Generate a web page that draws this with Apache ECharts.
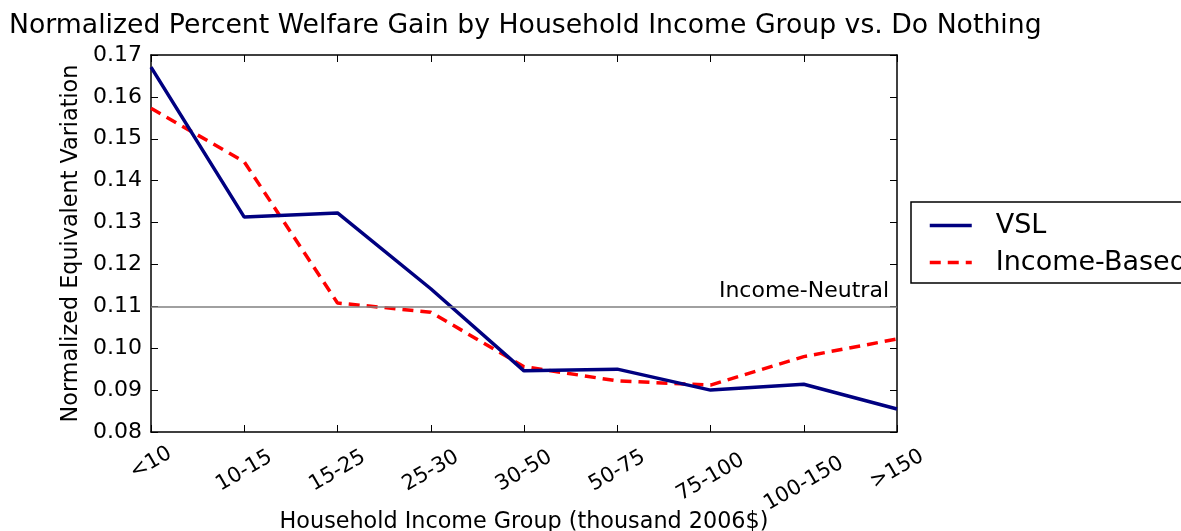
<!DOCTYPE html>
<html>
<head>
<meta charset="utf-8">
<script src="https://cdn.jsdelivr.net/npm/echarts@6/dist/echarts.min.js"></script>
<style>
  html, body { margin: 0; padding: 0; background: #fff; }
  #main { width: 1181px; height: 531px; }
</style>
</head>
<body>
<div id="main"></div>
<script>
// income groups (thousand 2006$)
var groups = ['<10', '10-15', '15-25', '25-30', '30-50', '50-75', '75-100', '100-150', '>150'];
// normalized equivalent variation
var vsl = [0.1671, 0.1313, 0.1323, 0.1142, 0.0946, 0.0950, 0.0900, 0.0914, 0.0855];
var incomeBased = [0.1573, 0.1445, 0.1108, 0.1086, 0.0956, 0.0922, 0.0912, 0.0980, 0.1022];
var neutral = 0.11;

var font = 'DejaVu Sans';
var xFont = 21;

// rotated tick labels hang below the axis by their top edge (like matplotlib),
// so longer labels get pushed down a bit more
var ctx = document.createElement('canvas').getContext('2d');
ctx.font = xFont + 'px "' + font + '"';
var rich = {};
groups.forEach(function (g, i) {
    var w = ctx.measureText(g).width;
    var d = 1.9 * (w / 4) / 1.155;
    rich['g' + i] = {
        fontSize: xFont, fontFamily: font, color: '#000',
        verticalAlign: 'bottom',
        padding: [2 * d, 2 * 0.577 * d, 0, 0]
    };
});

var myChart = echarts.init(document.getElementById('main'));

var tickIn = { show: true, inside: true, length: 7, lineStyle: { color: '#000', width: 1 } };
var frame = { show: true, lineStyle: { color: '#000', width: 1.5 } };

myChart.setOption({
    animation: false,
    textStyle: { fontFamily: font },
    title: {
        text: 'Normalized Percent Welfare Gain by Household Income Group vs. Do Nothing',
        left: 4, top: 8,
        textStyle: { fontFamily: font, fontSize: 26.7, fontWeight: 'normal', color: '#000' }
    },
    legend: {
        orient: 'vertical',
        left: 911, top: 202,
        padding: [10, 40, 7, 17],
        itemGap: 10,
        itemWidth: 42, itemHeight: 14,
        borderColor: '#000', borderWidth: 1.5,
        itemStyle: { opacity: 0 },
        lineStyle: { width: 3.5 },
        textStyle: { fontFamily: font, fontSize: 27, color: '#000', padding: [0, 0, 0, 19] },
        data: ['VSL', 'Income-Based']
    },
    grid: { left: 151, right: 284, top: 55, bottom: 99, outerBoundsMode: 'none', containLabel: false },
    xAxis: [{
        type: 'category',
        data: groups,
        boundaryGap: false,
        axisLine: frame,
        axisTick: tickIn,
        axisLabel: {
            rotate: 30, align: 'center', verticalAlign: 'middle',
            margin: 10, fontSize: xFont, color: '#000', fontFamily: font,
            formatter: function (v, i) { return '{g' + i + '|' + v + '}'; },
            rich: rich
        },
        name: 'Household Income Group (thousand 2006$)',
        nameLocation: 'middle',
        nameGap: 79,
        nameMoveOverlap: false,
        nameTextStyle: { fontSize: 22.3, color: '#000', fontFamily: font }
    }, {
        type: 'category',
        data: groups,
        position: 'top',
        boundaryGap: false,
        axisLine: frame,
        axisTick: tickIn,
        axisLabel: { show: false }
    }],
    yAxis: [{
        type: 'value',
        min: 0.08, max: 0.17, interval: 0.01,
        axisLine: frame,
        axisTick: tickIn,
        splitLine: { show: false },
        axisLabel: {
            fontSize: 22, color: '#000', margin: 9, fontFamily: font,
            formatter: function (v) { return v.toFixed(2); }
        },
        name: 'Normalized Equivalent Variation',
        nameLocation: 'middle',
        nameGap: 61,
        nameTextStyle: { fontSize: 22.3, color: '#000', fontFamily: font }
    }, {
        type: 'value',
        position: 'right',
        min: 0.08, max: 0.17, interval: 0.01,
        axisLine: frame,
        axisTick: tickIn,
        splitLine: { show: false },
        axisLabel: { show: false }
    }],
    series: [{
        name: 'VSL',
        type: 'line',
        data: vsl,
        symbol: 'none',
        color: '#000080',
        lineStyle: { color: '#000080', width: 3.5 },
        z: 3,
        markLine: {
            silent: true,
            symbol: 'none',
            data: [{ yAxis: neutral }],
            lineStyle: { color: '#808080', width: 1.5, type: 'solid' },
            label: {
                position: 'insideEndTop',
                formatter: 'Income-Neutral',
                fontSize: 22, color: '#000', fontFamily: font, distance: [8, 4]
            }
        }
    }, {
        name: 'Income-Based',
        type: 'line',
        data: incomeBased,
        symbol: 'none',
        color: '#ff0000',
        lineStyle: { color: '#ff0000', width: 3.5, type: [11, 7] },
        z: 2
    }]
});
</script>
</body>
</html>
